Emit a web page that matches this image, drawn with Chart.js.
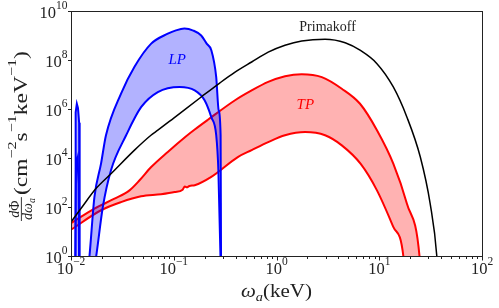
<!DOCTYPE html>
<html>
<head>
<meta charset="utf-8">
<script src="https://cdn.jsdelivr.net/npm/chart.js@4.4.1/dist/chart.umd.min.js"></script>
<style>
  html, body { margin: 0; padding: 0; background: #fff; }
</style>
</head>
<body>
<canvas id="myChart" width="499" height="308"></canvas>
<script>
// axion energy (keV) and flux dPhi/domega (cm^-2 s^-1 keV^-1)
var primE    = [0.01, 0.0125, 0.0175, 0.0245, 0.0415, 0.060, 0.070, 0.10, 0.185, 0.28, 0.395, 0.573, 0.83, 1.21, 1.76, 2.97, 4.66, 6.5, 9.5, 13.7, 18.6, 25.1, 31.3, 36.4, 37.5];
var primFlux = [27, 95, 620, 2500, 2.3e4, 9.3e4, 1.5e5, 4.7e5, 3.4e6, 1.26e7, 3.5e7, 9.1e7, 2.3e8, 4.4e8, 6.6e8, 7.8e8, 5.6e8, 2.75e8, 7.8e7, 8.7e6, 5.1e5, 1.2e4, 150, 1, 0.1];

// transverse plasmon band
var tpHiE    = [0.01, 0.0169, 0.0265, 0.0371, 0.0465, 0.0603, 0.0875, 0.132, 0.16, 0.215, 0.395, 0.573, 0.83, 1.21, 1.76, 2.76, 4.32, 6.5, 9.5, 13.7, 18.6, 24.7, 25.5];
var tpHiFlux = [24, 95, 240, 525, 1350, 4700, 1.95e4, 8.5e4, 1.6e5, 4e5, 2.5e6, 6.3e6, 1.4e7, 2.4e7, 2.9e7, 2.2e7, 7.4e6, 1.8e6, 1.5e5, 6500, 150, 1, 0.1];
var tpLoE    = [0.01, 0.0196, 0.0307, 0.0481, 0.0753, 0.102, 0.122, 0.128, 0.134, 0.142, 0.16, 0.232, 0.42, 0.573, 0.83, 1.21, 1.9, 2.97, 4.32, 6.6, 9.5, 13.7, 17.2, 17.8, 25.5];
var tpLoFlux = [13, 81, 174, 300, 363, 447, 560, 760, 700, 790, 850, 1860, 1.2e4, 2.3e4, 4.9e4, 9.3e4, 1.26e5, 9.3e4, 3.6e4, 6300, 525, 17, 1, 0.1, 0.01];

// longitudinal plasmon band
var lpHiE    = [0.01462, 0.0151, 0.0169, 0.0196, 0.0219, 0.0307, 0.0415, 0.0603, 0.0875, 0.105, 0.127, 0.155, 0.185, 0.21, 0.232, 0.259, 0.2735, 0.2858, 0.2884, 0.29];
var lpHiFlux = [0.3, 1, 280, 6500, 9.3e4, 4.7e6, 5.8e7, 5.1e8, 1.3e9, 1.78e9, 2.1e9, 1.74e9, 1.1e9, 5e8, 2.75e8, 2.2e7, 9.8e5, 9.3e4, 1, 0.01];
var lpLoE    = [0.01462, 0.01754, 0.0204, 0.0245, 0.0344, 0.0481, 0.070, 0.114, 0.16, 0.1995, 0.232, 0.259, 0.272, 0.285, 0.29];
var lpLoFlux = [0.01, 1, 110, 3500, 9.3e4, 1.3e6, 5.4e6, 8.7e6, 6.3e6, 2.5e6, 5.1e5, 9.3e4, 3200, 1, 0.01];

// narrow LP spike near 0.011 keV
var spikeHiE    = [0.01090, 0.01094, 0.01110, 0.01140, 0.01170, 0.01200, 0.01212, 0.01216];
var spikeHiFlux = [0.1, 1, 8e5, 1.8e6, 1.2e6, 3e5, 1, 0.1];
var spikeLoE    = [0.01090, 0.01100, 0.01120, 0.01140, 0.01160, 0.01180, 0.01190, 0.01216];
var spikeLoFlux = [0.01, 1, 1e4, 8e3, 1.1e4, 1e3, 1, 0.01];

// ticks
var xTicks = [0.01, 0.1, 1, 10, 100];
var xTickExp = ['\u22122', '\u22121', '0', '1', '2'];
var yTicks = [1, 1e2, 1e4, 1e6, 1e8, 1e10];
var yTickExp = ['0', '2', '4', '6', '8', '10'];

// curve labels
var notes = [
  { text: 'Primakoff', x: 3.14, y: 2.26e9, color: '#222', font: '14px "Liberation Serif"' },
  { text: 'LP', x: 0.108, y: 1.07e8, color: '#0000ff', font: 'italic 15px "Liberation Serif"' },
  { text: 'TP', x: 1.91, y: 1.6e6, color: '#ff0000', font: 'italic 15px "Liberation Serif"' }
];

function pts(xs, ys) {
  return xs.map(function (x, i) { return { x: x, y: ys[i] }; });
}

var SERIF = '"Liberation Serif"';

function runsWidth(ctx, runs) {
  var w = 0;
  runs.forEach(function (r) { ctx.font = r.font; w += ctx.measureText(r.t).width; });
  return w;
}
function drawRuns(ctx, runs, x) {
  runs.forEach(function (r) {
    ctx.font = r.font;
    ctx.fillText(r.t, x, r.dy || 0);
    x += ctx.measureText(r.t).width;
  });
  return x;
}

function powLabel(ctx, exp, x, y, align) {
  var runs = [
    { t: '10', font: '16.5px ' + SERIF },
    { t: exp, font: '11.5px ' + SERIF, dy: -9 }
  ];
  var w = runsWidth(ctx, runs);
  var x0 = align === 'center' ? x - w / 2 : x - w;
  ctx.save();
  ctx.translate(x0, y);
  drawRuns(ctx, runs, 0);
  ctx.restore();
}

var decor = {
  id: 'decor',
  afterDraw: function (chart) {
    var ctx = chart.ctx, a = chart.chartArea;
    var xs = chart.scales.x, ys = chart.scales.y;
    ctx.save();
    ctx.strokeStyle = '#222';
    ctx.fillStyle = '#222';
    ctx.lineWidth = 1;
    ctx.strokeRect(a.left + 0.5, a.top - 0.5, a.right - a.left, a.bottom - a.top);

    // x ticks (major + minor)
    ctx.beginPath();
    for (var d = 0; d < xTicks.length; d++) {
      var px = Math.round(xs.getPixelForValue(xTicks[d])) + 0.5;
      ctx.moveTo(px, a.bottom); ctx.lineTo(px, a.bottom + 3.5);
      if (d < xTicks.length - 1) {
        for (var m = 2; m < 10; m++) {
          var mx = Math.round(xs.getPixelForValue(xTicks[d] * m)) + 0.5;
          ctx.moveTo(mx, a.bottom); ctx.lineTo(mx, a.bottom + 2);
        }
      }
    }
    // y ticks
    yTicks.forEach(function (v) {
      var py = Math.round(ys.getPixelForValue(v)) - 0.5;
      ctx.moveTo(a.left + 0.5, py); ctx.lineTo(a.left - 3, py);
    });
    ctx.stroke();

    ctx.textBaseline = 'alphabetic';
    ctx.textAlign = 'left';
    xTicks.forEach(function (v, i) {
      powLabel(ctx, xTickExp[i], xs.getPixelForValue(v), 273.5, 'center');
    });
    yTicks.forEach(function (v, i) {
      powLabel(ctx, yTickExp[i], 67.5, ys.getPixelForValue(v) + 6, 'right');
    });

    // x title: omega_a (keV)
    var xRuns = [
      { t: '\u03c9', font: 'italic 19px ' + SERIF },
      { t: 'a', font: 'italic 13px ' + SERIF, dy: 4 },
      { t: '(keV)', font: '19px ' + SERIF }
    ];
    var xw = runsWidth(ctx, xRuns);
    ctx.save();
    ctx.translate(241, 297);
    ctx.scale(71 / xw, 1);
    drawRuns(ctx, xRuns, 0);
    ctx.restore();

    // y title: dPhi/domega_a (cm^-2 s^-1 keV^-1), rotated
    var fNum = [{ t: 'd', font: 'italic 14px ' + SERIF }, { t: '\u03a6', font: '14px ' + SERIF }];
    var fDen = [{ t: 'd', font: 'italic 14px ' + SERIF }, { t: '\u03c9', font: 'italic 14px ' + SERIF },
                { t: 'a', font: 'italic 10px ' + SERIF, dy: 2.5 }];
    var yRuns = [
      { t: '(cm', font: '19px ' + SERIF },
      { t: '\u22122', font: '13px ' + SERIF, dy: -11 },
      { t: 's', font: '19px ' + SERIF },
      { t: '\u22121', font: '13px ' + SERIF, dy: -11 },
      { t: 'keV', font: '19px ' + SERIF },
      { t: '\u22121', font: '13px ' + SERIF, dy: -11 },
      { t: ')', font: '19px ' + SERIF }
    ];
    var nw = runsWidth(ctx, fNum), dw = runsWidth(ctx, fDen);
    var fw = Math.max(nw, dw) + 2;
    var rw = runsWidth(ctx, yRuns);
    ctx.save();
    ctx.translate(27.3, 221);
    ctx.rotate(-Math.PI / 2);
    // fraction
    ctx.save();
    ctx.translate(0, -8);
    drawRuns(ctx, fNum, (fw - nw) / 2);
    ctx.restore();
    ctx.fillRect(0, -6.4, fw, 0.9);
    ctx.save();
    ctx.translate(0, 5);
    drawRuns(ctx, fDen, (fw - dw) / 2);
    ctx.restore();
    // units
    ctx.translate(fw + 2, 0);
    ctx.scale(144 / rw, 1);
    drawRuns(ctx, yRuns, 0);
    ctx.restore();

    // curve labels
    ctx.textAlign = 'center';
    ctx.textBaseline = 'middle';
    notes.forEach(function (n) {
      ctx.fillStyle = n.color;
      ctx.font = n.font;
      ctx.fillText(n.text, xs.getPixelForValue(n.x), ys.getPixelForValue(n.y));
    });
    ctx.restore();
  }
};

var blueFill = 'rgba(0, 0, 255, 0.3)';
var redFill = 'rgba(255, 0, 0, 0.3)';

var ctx = document.getElementById('myChart').getContext('2d');
var chart = new Chart(ctx, {
  type: 'line',
  data: {
    datasets: [
      { label: 'Primakoff', data: pts(primE, primFlux), borderColor: '#000', borderWidth: 1.5,
        fill: false, cubicInterpolationMode: 'monotone' },
      { label: 'LP spike', data: pts(spikeHiE, spikeHiFlux), borderColor: '#0000ff', borderWidth: 2,
        backgroundColor: blueFill, fill: '+1' },
      { label: 'LP spike low', data: pts(spikeLoE, spikeLoFlux), borderColor: '#0000ff', borderWidth: 2,
        fill: false },
      { label: 'LP', data: pts(lpHiE, lpHiFlux), borderColor: '#0000ff', borderWidth: 2,
        backgroundColor: blueFill, fill: '+1', cubicInterpolationMode: 'monotone' },
      { label: 'LP low', data: pts(lpLoE, lpLoFlux), borderColor: '#0000ff', borderWidth: 2,
        fill: false, cubicInterpolationMode: 'monotone' },
      { label: 'TP', data: pts(tpHiE, tpHiFlux), borderColor: '#ff0000', borderWidth: 2,
        backgroundColor: redFill, fill: '+1', cubicInterpolationMode: 'monotone' },
      { label: 'TP low', data: pts(tpLoE, tpLoFlux), borderColor: '#ff0000', borderWidth: 2,
        fill: false, cubicInterpolationMode: 'monotone' }
    ]
  },
  options: {
    responsive: false,
    animation: false,
    layout: { padding: { left: 71, right: 17, top: 12, bottom: 51 } },
    elements: { point: { radius: 0 } },
    plugins: { legend: { display: false }, tooltip: { enabled: false } },
    scales: {
      x: { type: 'logarithmic', min: 0.01, max: 100, display: false },
      y: { type: 'logarithmic', min: 1, max: 1e10, display: false }
    }
  },
  plugins: [decor]
});
</script>
</body>
</html>
